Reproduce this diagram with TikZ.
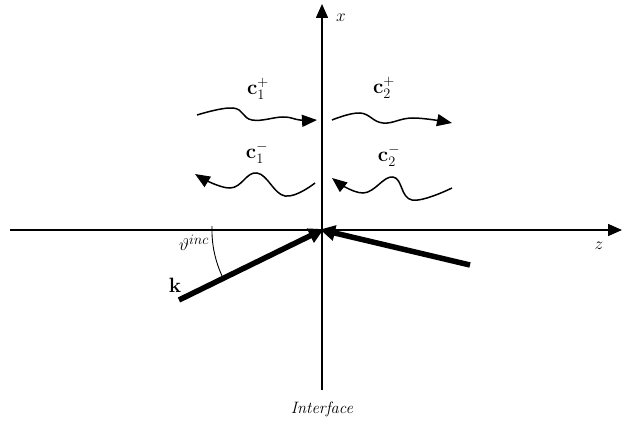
\documentclass[tikz,border=0pt]{standalone}
\usetikzlibrary{arrows.meta}
\begin{document}
\begin{tikzpicture}[x=1pt,y=-1pt,
  axis/.style={line width=1.6pt,-{Triangle[length=14pt,width=12pt]}},
  wave/.style={line width=1.5pt,-{Triangle[length=15pt,width=12pt]}},
  kvec/.style={line width=5.5pt,-{Triangle[length=15pt,width=15pt]},shorten >=-2pt},
  lbl/.style={inner sep=0pt,font=\fontsize{16.5}{20}\selectfont},
  blbl/.style={inner sep=0pt,font=\fontsize{22}{26}\selectfont}]
\useasboundingbox (0,0) rectangle (622,428);
\coordinate (O) at (322,230);
\coordinate (xb) at (322,390);
\coordinate (xt) at (322,4);
\coordinate (zl) at (10,230);
\coordinate (zr) at (622,230);
\draw[axis] (xb) -- (xt);
\draw[axis] (zl) -- (zr);
\node[lbl] (xl) at (341,18) {$x$};
\node[lbl] (zlab) at (599,246) {$z$};
\node[lbl] (ifc) at (322,409) {\textit{Interface}};
% incident and reflected k
\coordinate (k0) at (179,300);
\coordinate (r0) at (470,265);
\draw[kvec] (k0) -- (O);
\draw[kvec] (r0) -- (O);
\draw[line width=0.9pt] (212,226) arc[start angle=182,end angle=154,radius=110];
\node[lbl,font=\fontsize{19}{22}\selectfont] (th) at (194,243) {$\vartheta^{inc}$};
\node[blbl] (k) at (175,285) {$\mathbf{k}$};
% waves
\draw[wave] plot[smooth,tension=0.7] coordinates {(197,115) (233,108) (252,120) (283,117) (300,120) (317,120)};
\draw[wave] plot[smooth,tension=0.7] coordinates {(332,120) (360,113) (383,123) (413,118) (452,123)};
\draw[wave] plot[smooth,tension=0.7] coordinates {(315,183) (285,196) (257,173) (230,188) (195,174)};
\draw[wave] plot[smooth,tension=0.7] coordinates {(452,188) (412,200) (393,177) (363,193) (332,178)};
\node[blbl] (c1p) at (258,89) {$\mathbf{c}_1^+$};
\node[blbl] (c2p) at (384,88) {$\mathbf{c}_2^+$};
\node[blbl] (c1m) at (257,153) {$\mathbf{c}_1^-$};
\node[blbl] (c2m) at (389,156) {$\mathbf{c}_2^-$};
\end{tikzpicture}
\end{document}
